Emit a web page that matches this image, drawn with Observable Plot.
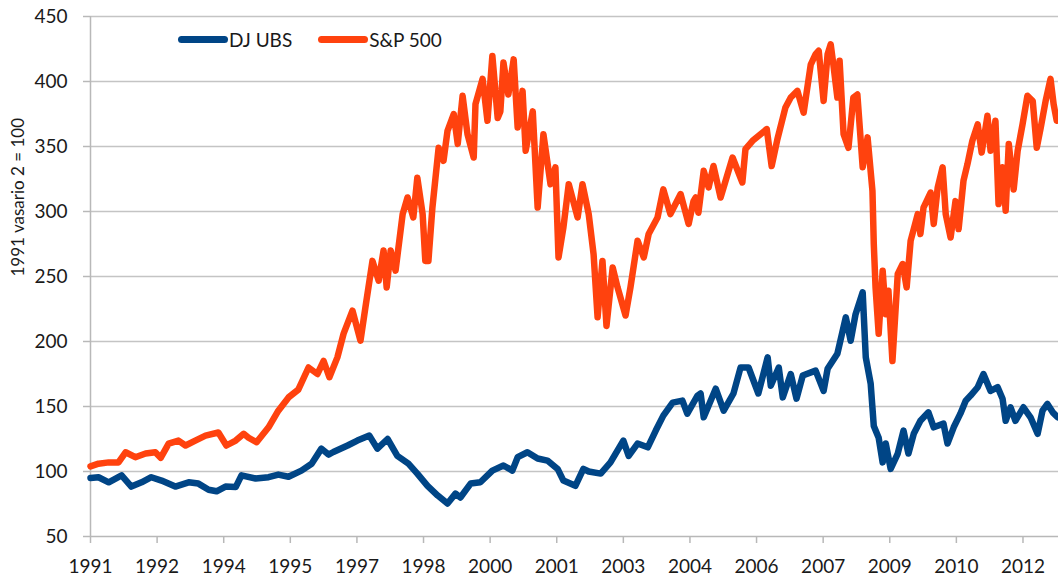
<!DOCTYPE html>
<html>
<head>
<meta charset="utf-8">
<script src="https://cdn.jsdelivr.net/npm/d3@7"></script>
<script src="https://cdn.jsdelivr.net/npm/@observablehq/plot@0.6"></script>
<style>
  html, body { margin: 0; padding: 0; background: #fff; }
  #wrap { position: relative; width: 1058px; height: 578px; font-family: Lato, "Open Sans", sans-serif; }
  #legend { position: absolute; left: 178px; top: 28px; display: flex; align-items: center; font-size: 19px; color: #1a1a1a; }
  .sw { display: inline-block; width: 50px; height: 7px; border-radius: 3.5px; margin-right: 1px; }
  .item { display: flex; align-items: center; margin-right: 26px; }
</style>
</head>
<body>
<div id="wrap">
  <div id="chart"></div>
  <div id="legend"></div>
</div>
<script>
// ---- data (decimal years, index values with 1991 Feb 2 = 100) ----
const seriesNames = ["DJ UBS", "S&P 500"];
const seriesColors = ["#004586", "#ff420e"];

const djDates = [1991.09,1991.27,1991.50,1991.79,1992.01,1992.24,1992.46,1992.69,1993.00,1993.30,1993.52,1993.75,1993.93,1994.13,1994.36,1994.49,1994.81,1995.10,1995.32,1995.55,1995.84,1996.07,1996.29,1996.45,1996.56,1996.88,1997.10,1997.37,1997.55,1997.78,1998.00,1998.25,1998.45,1998.68,1998.91,1999.13,1999.31,1999.42,1999.65,1999.87,2000.14,2000.39,2000.59,2000.71,2000.93,2001.16,2001.38,2001.61,2001.74,2002.01,2002.19,2002.31,2002.58,2002.80,2003.09,2003.21,2003.41,2003.64,2003.82,2003.99,2004.20,2004.42,2004.53,2004.76,2004.83,2004.90,2005.17,2005.35,2005.57,2005.73,2005.91,2006.13,2006.34,2006.41,2006.59,2006.68,2006.86,2006.99,2007.13,2007.42,2007.60,2007.69,2007.91,2008.10,2008.21,2008.32,2008.48,2008.55,2008.66,2008.73,2008.84,2008.93,2009.00,2009.11,2009.27,2009.40,2009.51,2009.63,2009.78,2009.96,2010.08,2010.30,2010.39,2010.53,2010.68,2010.80,2010.91,2011.07,2011.20,2011.36,2011.52,2011.63,2011.70,2011.81,2011.92,2012.10,2012.26,2012.42,2012.53,2012.64,2012.76,2012.87];
const djValues = [95,95.6,91.7,97,88.4,91.7,95.6,93,88.4,91.7,90.7,86,84.8,88.4,88,97,94.6,95.6,97.6,96,100.7,106,117.6,113,115,120,123.8,127.6,117.6,125,112,106,98.4,89,81.5,75.4,83,80,90.7,91.7,100.7,104.6,100.7,111,114.8,110,108.4,102,93,89,102,100,98.4,107,123.8,112,121.5,118.6,131.5,143,153,154.5,144.5,158.4,160,141.7,163.7,146.8,160,180,180,160,187.8,166,180,157,175,156,173.8,177.6,162,179,190.6,218.6,200.6,221,237.8,187.8,167.6,135,126,107,121.5,102,113.8,131.5,113.8,129,139,145.5,134,136.8,121.5,134,144.5,154.5,158.4,164.8,175,162,164.8,156,139,149.4,139,149.4,141.7,129,146.8,152,145.5,141.7];

const spDates = [1991.09,1991.27,1991.50,1991.72,1991.88,1992.10,1992.33,1992.55,1992.67,1992.85,1993.07,1993.23,1993.45,1993.68,1993.97,1994.15,1994.36,1994.54,1994.65,1994.83,1995.10,1995.32,1995.55,1995.77,1996.00,1996.20,1996.34,1996.47,1996.65,1996.79,1996.99,1997.17,1997.28,1997.44,1997.58,1997.69,1997.76,1997.85,1997.96,1998.12,1998.23,1998.36,1998.45,1998.57,1998.63,1998.70,1998.79,1998.86,1998.93,1999.04,1999.13,1999.27,1999.36,1999.47,1999.58,1999.72,1999.76,1999.92,2000.03,2000.14,2000.26,2000.32,2000.39,2000.50,2000.62,2000.71,2000.82,2000.89,2001.05,2001.16,2001.29,2001.45,2001.56,2001.63,2001.74,2001.86,2002.06,2002.17,2002.31,2002.42,2002.51,2002.62,2002.71,2002.85,2002.96,2003.14,2003.25,2003.41,2003.55,2003.66,2003.86,2003.99,2004.15,2004.38,2004.56,2004.67,2004.72,2004.78,2004.90,2005.01,2005.12,2005.28,2005.55,2005.77,2005.84,2006.00,2006.18,2006.32,2006.43,2006.56,2006.74,2006.86,2007.01,2007.15,2007.31,2007.42,2007.49,2007.60,2007.69,2007.76,2007.82,2007.91,2007.96,2008.05,2008.16,2008.27,2008.36,2008.48,2008.59,2008.70,2008.73,2008.77,2008.84,2008.93,2009.00,2009.06,2009.15,2009.27,2009.38,2009.47,2009.56,2009.72,2009.78,2009.85,2010.01,2010.08,2010.17,2010.28,2010.35,2010.46,2010.57,2010.64,2010.75,2010.84,2010.95,2011.07,2011.16,2011.29,2011.36,2011.47,2011.54,2011.63,2011.70,2011.77,2011.88,2011.97,2012.08,2012.19,2012.31,2012.40,2012.49,2012.60,2012.71,2012.78,2012.85];
const spValues = [104,106,107,107,114.8,111,113.8,114.8,110.5,121.5,123.8,120,123.8,127.6,130,120,123.8,129,126,122.5,134,146.8,157,163,180,175,185,172.5,187.8,206,223.7,200.6,226,262,246.8,270,241.6,270,254.5,298,310.8,295.4,326,298,262,262,303,326,349,339,362,375,352,389,359.5,341.5,382.6,402,369.8,419.7,372,377,414.6,390,417,364.6,392.8,346.7,377,303,359.5,321,334,264.7,287.7,321,295.4,321,298,267,218.6,262,212,257,241.6,220,241.6,277.5,264.7,282.7,295.4,317,298,313.4,290.4,308,310.8,299,331.3,318.5,335,310.8,341.5,322.3,348,354.4,359.5,363.4,335,355.7,380,387.7,392.8,376,413,421,423.6,385,421,428.6,413,387.7,416,359.5,349,387.7,390,334,357,316,275,241.6,206,254.5,221,239,185,252,259.6,241.6,277.5,298,282.7,303,314.6,290.4,318.5,334,298,280,308,286.5,323.6,336.5,354.4,367,345.4,373.6,346.7,369.8,305.7,334,300.6,352,317,346.7,367,389,385,349,364.6,385,402,382.6,369.8];

const yTicks = [50,100,150,200,250,300,350,400,450];
const xTickDates = [1991.09,1992.59,1994.09,1995.59,1997.09,1998.59,2000.09,2001.59,2003.09,2004.59,2006.09,2007.59,2009.09,2010.59,2012.09];
const xTickLabels = ["1991","1992","1994","1995","1997","1998","2000","2001","2003","2004","2006","2007","2009","2010","2012"];
const xDomain = [1991.09, 2012.89];
const yTitle = "1991 vasario 2 = 100";

// ---- build ----
const dj = djDates.map((t, i) => ({t, v: djValues[i]}));
const sp = spDates.map((t, i) => ({t, v: spValues[i]}));
const tickLabelOf = new Map(xTickDates.map((d, i) => [d, xTickLabels[i]]));

const chart = Plot.plot({
  width: 1058,
  height: 578,
  marginLeft: 90,
  marginRight: 0,
  marginTop: 16,
  marginBottom: 42,
  style: {fontFamily: "Lato, 'Open Sans', sans-serif", fontSize: "19px", color: "#1a1a1a", background: "#fff", overflow: "visible"},
  x: {domain: xDomain},
  y: {domain: [50, 450]},
  marks: [
    Plot.ruleY(yTicks.filter(d => d > 50), {stroke: "#c4c4c4", strokeWidth: 1.5}),
    Plot.ruleY([50], {stroke: "#b8b8b8", strokeWidth: 1.5}),
    Plot.ruleX([xDomain[0]], {stroke: "#b8b8b8", strokeWidth: 1.5}),
    Plot.axisY({ticks: yTicks, tickSize: 7, tickPadding: 16, stroke: "#b8b8b8", strokeWidth: 1.5, label: null, fontSize: 19}),
    Plot.axisX({ticks: xTickDates, tickFormat: d => tickLabelOf.get(d), tickSize: 7, tickPadding: 16, stroke: "#b8b8b8", strokeWidth: 1.5, label: null, fontSize: 19}),
    Plot.text([yTitle], {frameAnchor: "left", text: d => d, rotate: -90, dx: -72, fontSize: 17, fill: "#1a1a1a"}),
    Plot.line(dj, {x: "t", y: "v", stroke: seriesColors[0], strokeWidth: 6.5, strokeLinejoin: "round", strokeLinecap: "round"}),
    Plot.line(sp, {x: "t", y: "v", stroke: seriesColors[1], strokeWidth: 6.5, strokeLinejoin: "round", strokeLinecap: "round"})
  ]
});
document.getElementById("chart").appendChild(chart);

const legend = document.getElementById("legend");
seriesNames.forEach((name, i) => {
  const item = document.createElement("div");
  item.className = "item";
  const sw = document.createElement("span");
  sw.className = "sw";
  sw.style.background = seriesColors[i];
  const label = document.createElement("span");
  label.textContent = name;
  item.appendChild(sw);
  item.appendChild(label);
  legend.appendChild(item);
});
</script>
</body>
</html>
